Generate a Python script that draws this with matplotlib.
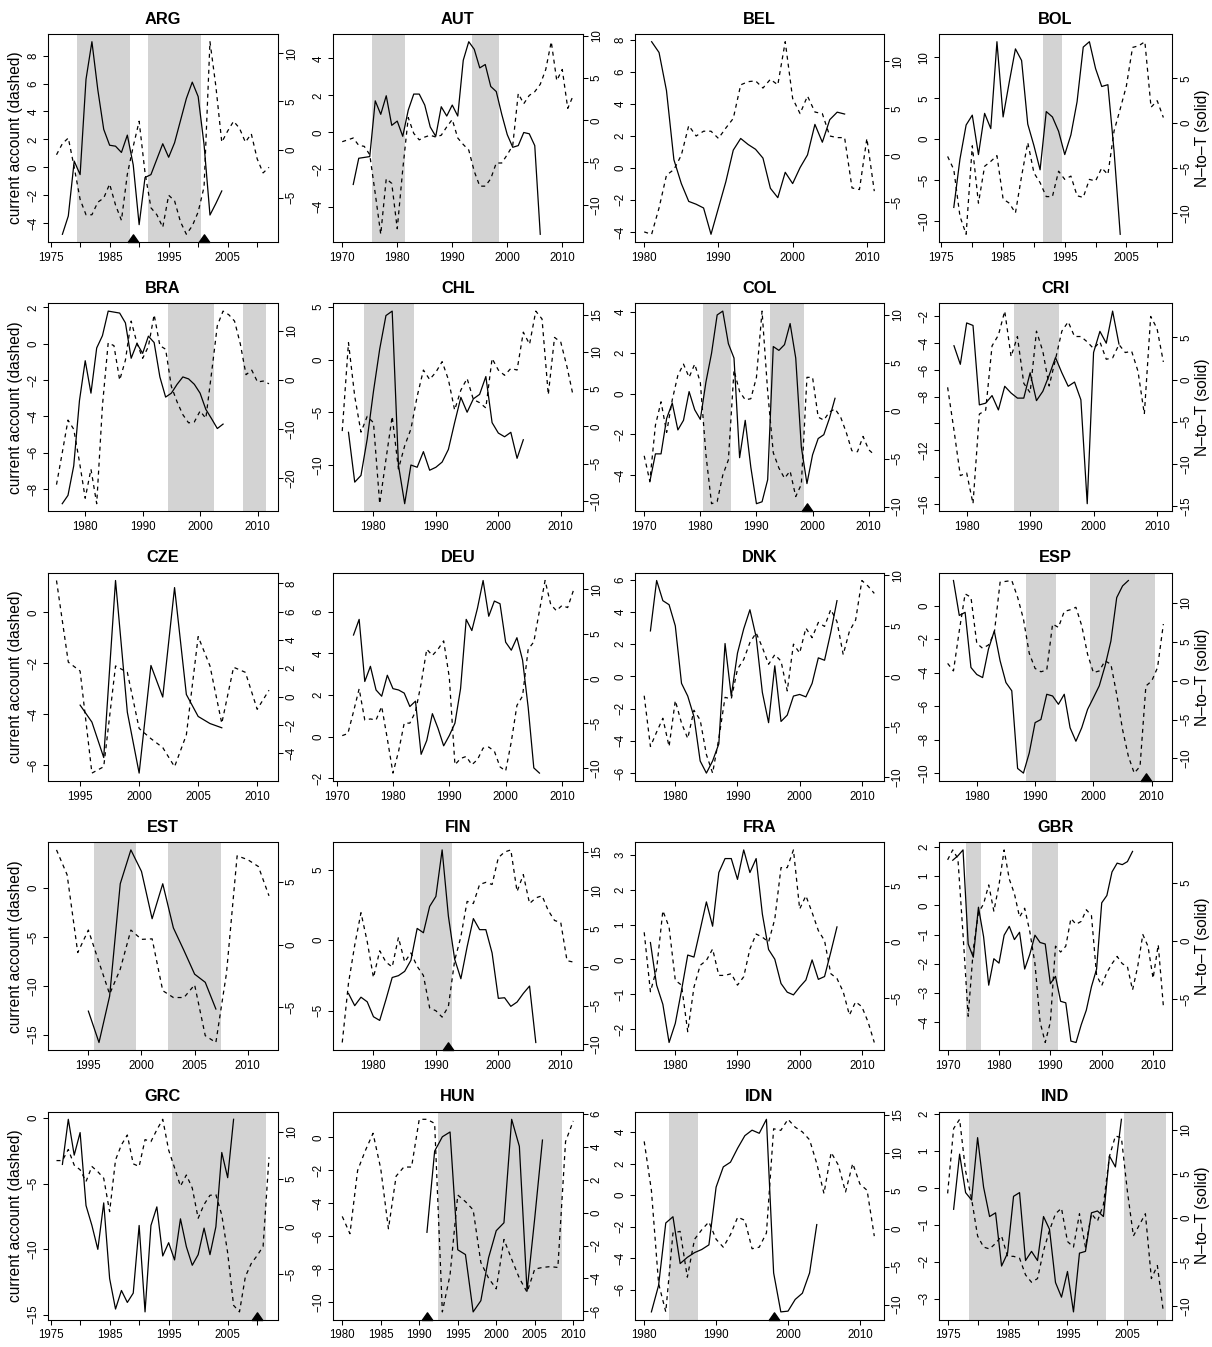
import numpy as np
import matplotlib
matplotlib.use("Agg")
import matplotlib.pyplot as plt
from matplotlib.path import Path
from matplotlib.ticker import MultipleLocator, FuncFormatter

plt.rcParams['font.family'] = ['Liberation Sans', 'DejaVu Sans']

COUNTRIES = ["ARG", "AUT", "BEL", "BOL", "BRA", "CHL", "COL", "CRI", "CZE", "DEU",
             "DNK", "ESP", "EST", "FIN", "FRA", "GBR", "GRC", "HUN", "IDN", "IND"]

# current account (dashed, left axis) and N-to-T (solid, right axis), yearly
ARG_CA_START = 1976
ARG_CA = [0.9, 1.7, 2.1, 0.0, -2.3, -3.4, -3.4, -2.5, -2.2, -1.2, -2.7, -3.8, -0.5, 1.5, 3.3,
          -0.4, -2.9, -3.4, -4.3, -2.0, -2.4, -3.9, -4.8, -4.2, -3.2, -1.4, 9.0, 5.8, 1.8, 2.6,
          3.3, 2.8, 1.8, 2.4, 0.6, -0.4, 0.0]
ARG_NT_START = 1977
ARG_NT = [-8.8, -6.9, -1.2, -2.6, 7.3, 11.2, 6.2, 2.1, 0.45, 0.35, -0.3, 1.5, -1.6, -7.8,
          -2.9, -2.6, -1.0, 0.6, -0.8, 0.7, 3.0, 5.3, 7.0, 5.5, 0.5, -6.8, -5.6, -4.3]
ARG_SHADE = [(1980, 1988), (1992, 2000)]
ARG_CRISIS = [1989, 2001]

AUT_CA_START = 1970
AUT_CA = [-0.5, -0.4, -0.3, -0.7, -0.75, -1.2, -3.3, -5.5, -2.5, -2.75, -5.2, -2.0, 0.8, -0.05,
          -0.4, -0.25, -0.15, -0.25, -0.15, 0.3, 0.7, -0.3, -0.65, -0.95, -2.1, -2.9, -2.9,
          -2.5, -1.65, -1.65, -1.2, -0.7, 2.1, 1.55, 2.0, 2.2, 2.6, 3.4, 4.9, 2.8, 3.4, 1.3, 2.0]
AUT_NT_START = 1972
AUT_NT = [-7.6, -4.5, -4.4, -4.3, 2.3, 0.7, 2.9, -0.6, -0.1, -1.9, 1.2, 3.1, 3.1, 1.8, -0.8,
          -1.9, 1.6, 0.5, 1.8, 0.5, 7.1, 9.3, 8.4, 6.2, 6.6, 4.0, 3.4, 0.7, -1.7, -3.2, -3.0,
          -1.45, -1.6, -3.0, -13.5]
AUT_SHADE = [(1976, 1981), (1994, 1998)]
AUT_CRISIS = []

BEL_CA_START = 1980
BEL_CA = [-4.0, -4.15, -2.5, -0.45, -0.1, 0.8, 2.65, 2.0, 2.3, 2.3, 1.85, 2.5, 3.1, 5.2, 5.4,
          5.45, 5.0, 5.55, 5.2, 7.9, 4.35, 3.4, 4.5, 3.5, 3.4, 2.0, 1.9, 1.9, -1.25, -1.35,
          1.85, -1.45]
BEL_NT_START = 1981
BEL_NT = [12.1, 10.95, 6.9, -0.46, -3.0, -4.9, -5.2, -5.6, -8.4, -5.6, -2.8, 0.56, 1.8, 1.16,
          0.65, -0.29, -3.5, -4.5, -1.8, -3.0, -1.3, 0.05, 3.3, 1.4, 3.8, 4.6, 4.4]
BEL_SHADE = []
BEL_CRISIS = []

BOL_CA_START = 1976
BOL_CA = [-2.1, -3.7, -9.4, -11.6, -0.8, -7.8, -3.3, -2.7, -2.0, -7.3, -7.8, -9.0, -4.5, -0.4,
          -4.1, -5.3, -7.0, -7.0, -3.9, -4.9, -4.5, -6.9, -7.1, -4.9, -5.1, -3.5, -4.3, 1.0,
          3.7, 6.5, 11.2, 11.4, 11.9, 3.9, 4.7, 2.65]
BOL_NT_START = 1977
BOL_NT = [-9.4, -4.0, -0.2, 0.9, -3.5, 1.1, -0.6, 9.1, 0.7, 4.6, 8.3, 7.0, -0.1, -2.5, -5.2,
          1.3, 0.7, -0.9, -3.5, -1.3, 2.4, 8.5, 9.1, 6.1, 4.1, 4.3, -3.1, -12.4]
BOL_SHADE = [(1992, 1994)]
BOL_CRISIS = []

BRA_CA_START = 1975
BRA_CA = [-7.75, -6.0, -4.2, -4.7, -6.5, -8.5, -6.9, -8.8, -3.4, 0.05, -0.1, -2.0, -0.9, 1.25,
          0.05, -0.8, -0.15, 1.6, -0.1, -0.3, -2.35, -3.2, -3.9, -4.35, -4.3, -3.7, -4.1, -1.6,
          1.0, 1.8, 1.6, 1.25, 0.0, -1.7, -1.45, -2.1, -2.05, -2.2]
BRA_NT_START = 1976
BRA_NT = [-25.2, -23.5, -17.5, -4.2, 3.9, -2.7, 6.5, 9.0, 14.0, 13.8, 13.6, 11.6, 4.4, 7.4,
          5.4, 8.9, 7.6, 0.6, -3.5, -2.7, -0.9, 0.6, 0.2, -0.9, -2.7, -6.0, -7.9, -9.9, -9.0]
BRA_SHADE = [(1995, 2002), (2008, 2011)]
BRA_CRISIS = []

CHL_CA_START = 1975
CHL_CA = [-6.8, 1.6, -3.5, -6.9, -5.4, -6.0, -13.7, -9.5, -5.4, -10.4, -8.2, -6.6, -3.5, -1.0,
          -1.9, -1.2, -0.2, -1.9, -4.8, -2.9, -1.8, -3.8, -4.1, -4.6, 0.1, -1.0, -1.5, -0.85,
          -1.0, 2.6, 1.45, 4.6, 3.85, -3.35, 2.1, 1.65, -0.7, -3.5]
CHL_NT_START = 1976
CHL_NT = [-0.8, -7.5, -6.6, -1.7, 4.7, 10.4, 14.9, 15.5, -5.2, -10.4, -5.2, -5.5, -3.4, -5.9,
          -5.5, -4.8, -3.1, 0.5, 3.9, 1.9, 3.7, 4.3, 6.7, 0.5, -0.9, -1.4, -0.8, -4.3, -1.8]
CHL_SHADE = [(1979, 1986)]
CHL_CRISIS = []

COL_CA_START = 1970
COL_CA = [-3.05, -4.3, -1.55, -0.4, -1.9, -0.3, 0.9, 1.45, 0.8, 1.45, 0.55, -3.0, -5.4, -5.3,
          -4.0, -3.25, 1.15, 0.1, -0.3, -0.25, 0.8, 4.05, 0.1, -2.9, -3.65, -4.15, -3.8, -5.05,
          -4.45, 0.8, 0.8, -1.15, -1.3, -0.9, -0.75, -1.15, -1.9, -2.8, -2.85, -2.1, -2.75, -3.0]
COL_NT_START = 1971
COL_NT = [-7.4, -4.5, -4.5, -0.8, 0.8, -2.0, -1.0, 2.0, 0.1, -0.9, 3.0, 6.0, 10.0, 10.4, 7.0,
          5.5, -4.9, -1.0, -5.9, -9.7, -9.5, -7.2, 6.7, 6.3, 6.9, 9.1, 5.5, -3.8, -7.6, -4.6,
          -2.9, -2.5, -0.8, 1.3]
COL_SHADE = [(1981, 1985), (1993, 1998)]
COL_CRISIS = [1999]

CRI_CA_START = 1977
CRI_CA = [-7.3, -10.5, -13.9, -13.7, -16.0, -9.3, -9.0, -4.2, -3.4, -1.6, -5.0, -3.5, -7.0,
          -7.7, -3.1, -4.6, -7.2, -5.2, -3.1, -2.4, -3.5, -3.5, -3.9, -4.4, -3.9, -5.2, -5.1,
          -4.1, -4.7, -4.6, -6.1, -9.3, -2.0, -2.9, -5.4]
CRI_NT_START = 1978
CRI_NT = [4.0, 1.8, 6.7, 6.4, -3.0, -2.8, -1.9, -3.6, -0.8, -1.6, -2.2, -2.2, 0.8, -2.5, -1.4,
          0.5, 2.6, 0.8, -0.8, -0.3, -2.4, -14.7, 3.2, 5.7, 4.3, 8.1, 4.2]
CRI_SHADE = [(1988, 1994)]
CRI_CRISIS = []

CZE_CA_START = 1993
CZE_CA = [1.25, -1.95, -2.3, -6.3, -6.05, -2.1, -2.35, -4.55, -4.95, -5.3, -6.05, -4.8, -0.95,
          -2.1, -4.35, -2.15, -2.35, -3.8, -3.05]
CZE_NT_START = 1995
CZE_NT = [-0.6, -1.8, -4.3, 8.2, -1.1, -5.4, 2.2, -0.03, 7.7, 0.15, -1.4, -1.9, -2.2]
CZE_SHADE = []
CZE_CRISIS = []

DEU_CA_START = 1971
DEU_CA = [0.05, 0.15, 1.2, 2.3, 0.8, 0.85, 0.8, 1.45, -0.1, -1.75, -0.7, 0.65, 0.65, 1.2, 2.55,
          4.2, 3.9, 4.2, 4.6, 2.85, -1.35, -1.05, -0.95, -1.35, -1.1, -0.55, -0.5, -0.7, -1.45,
          -1.65, -0.25, 1.5, 1.95, 4.2, 4.55, 6.05, 7.5, 6.35, 6.05, 6.3, 6.2, 7.0]
DEU_NT_START = 1973
DEU_NT = [4.9, 6.65, -0.3, 1.4, -1.25, -1.95, 0.4, -1.1, -1.25, -1.6, -3.1, -2.5, -8.45, -6.9,
          -3.9, -5.55, -7.5, -6.35, -4.97, -1.1, 6.65, 5.4, 7.9, 11.0, 7.0, 8.7, 8.4, 4.1, 3.2,
          4.6, 2.1, -3.2, -9.97, -10.55]
DEU_SHADE = []
DEU_CRISIS = []

DNK_CA_START = 1975
DNK_CA = [-1.2, -4.35, -3.45, -2.6, -4.35, -1.5, -2.9, -3.85, -2.1, -2.7, -4.85, -6.0, -3.85,
          -1.3, -1.4, 0.45, 1.05, 2.1, 2.7, 1.8, 0.75, 1.35, 0.95, -0.9, 2.0, 1.45, 3.0, 2.4,
          3.35, 3.1, 4.15, 3.4, 1.35, 2.8, 3.5, 5.95, 5.6, 5.15]
DNK_NT_START = 1976
DNK_NT = [4.5, 9.5, 7.5, 7.1, 5.0, -0.7, -1.96, -4.0, -8.4, -9.6, -8.4, -6.7, 3.25, -1.96, 2.3,
          4.7, 6.6, 3.9, -1.6, -4.6, 1.04, -4.48, -3.85, -1.96, -1.8, -2.04, -0.7, 1.83, 1.59,
          4.35, 7.5]
DNK_SHADE = []
DNK_CRISIS = []

ESP_CA_START = 1975
ESP_CA = [-3.45, -3.9, -1.5, 0.7, 0.5, -2.25, -2.55, -2.35, -1.65, 1.4, 1.45, 1.5, 0.5, -0.8,
          -2.85, -3.75, -3.95, -3.85, -1.1, -1.3, -0.35, -0.25, -0.1, -1.2, -2.9, -4.0, -3.9,
          -3.3, -3.5, -5.3, -7.4, -9.0, -10.0, -9.6, -4.8, -4.5, -3.7, -1.1]
ESP_NT_START = 1976
ESP_NT = [12.9, 8.4, 8.8, 1.7, 0.8, 0.4, 4.06, 6.4, 2.56, -0.24, -1.3, -11.3, -11.9, -9.3,
          -5.4, -5.0, -1.75, -1.97, -3.04, -1.75, -6.06, -7.8, -6.06, -3.7, -2.2, -0.67, 1.9,
          5.1, 10.7, 12.2, 12.9]
ESP_SHADE = [(1989, 1993), (2000, 2010)]
ESP_CRISIS = [2009]

EST_CA_START = 1992
EST_CA = [3.9, 1.35, -6.6, -4.3, -7.6, -10.85, -8.3, -4.3, -5.25, -5.2, -10.5, -11.2, -11.2,
          -9.9, -15.1, -15.8, -8.7, 3.3, 2.9, 2.2, -0.8]
EST_NT_START = 1995
EST_NT = [-5.3, -7.8, -4.1, 4.86, 7.56, 5.84, 2.07, 4.86, 1.34, -0.47, -2.35, -3.0, -5.13]
EST_SHADE = [(1996, 1999), (2003, 2007)]
EST_CRISIS = []

FIN_CA_START = 1975
FIN_CA = [-7.25, -3.05, -0.35, 1.95, -0.1, -2.65, -0.75, -1.55, -1.9, 0.2, -1.55, -0.9, -1.85,
          -2.5, -4.8, -5.0, -5.45, -4.7, -1.45, 0.25, 2.75, 2.6, 3.95, 4.1, 3.95, 5.85, 6.25,
          6.4, 3.45, 4.65, 2.6, 3.0, 3.15, 2.1, 1.4, 1.25, -1.45, -1.55]
FIN_NT_START = 1976
FIN_NT = [-3.41, -5.0, -3.9, -4.5, -6.44, -6.92, -4.21, -1.34, -1.1, -0.54, 0.9, 5.04, 4.48,
          7.9, 9.2, 15.25, 6.64, 1.06, -1.5, 2.65, 6.32, 4.88, 4.88, 1.85, -4.05, -3.97, -5.09,
          -4.53, -3.41, -2.45, -9.79]
FIN_SHADE = [(1988, 1992)]
FIN_CRISIS = [1992]

FRA_CA_START = 1975
FRA_CA = [0.78, -0.93, -0.27, 1.4, 0.93, -0.6, -0.74, -2.08, -0.8, -0.17, -0.03, 0.3, -0.46,
          -0.46, -0.41, -0.74, -0.5, 0.3, 0.73, 0.64, 0.5, 1.16, 2.64, 2.64, 3.15, 1.45, 1.83,
          1.35, 0.83, 0.54, -0.41, -0.55, -0.93, -1.6, -1.22, -1.36, -1.8, -2.39]
FRA_NT_START = 1976
FRA_NT = [-0.05, -3.84, -5.54, -8.93, -7.23, -4.3, -1.16, -1.34, 1.09, 3.56, 1.4, 6.17, 7.41,
          7.41, 5.56, 8.18, 6.17, 7.41, 2.48, -0.67, -1.53, -3.69, -4.46, -4.7, -4.0, -3.38,
          -1.59, -3.32, -3.07, -0.91, 1.34]
FRA_SHADE = []
FRA_CRISIS = []

GBR_CA_START = 1970
GBR_CA = [1.56, 1.9, 1.6, -1.0, -3.8, -1.5, -0.25, 0.05, 0.7, -0.2, 0.7, 1.9, 0.9, 0.4, -0.4,
          -0.1, -0.9, -2.0, -4.0, -4.7, -4.0, -1.4, -1.6, -1.4, -0.45, -0.65, -0.55, -0.15,
          -0.35, -2.4, -2.75, -2.3, -2.0, -1.75, -2.0, -2.1, -2.9, -2.1, -1.0, -1.4, -2.5,
          -1.35, -3.45]
GBR_NT_START = 1971
GBR_NT = [6.97, 7.35, 7.86, -0.25, -1.39, 2.92, 0.38, -3.8, -1.52, -1.9, 0.51, 1.27, 0.13, 0.76,
          -2.41, -1.14, 0.51, -0.12, -0.25, -3.67, -3.04, -5.19, -5.32, -8.62, -8.74, -7.22,
          -5.95, -3.93, -2.41, 3.3, 3.93, 5.96, 6.72, 6.59, 6.85, 7.73]
GBR_SHADE = [(1974, 1976), (1987, 1991)]
GBR_CRISIS = []

GRC_CA_START = 1976
GRC_CA = [-3.25, -3.25, -2.4, -3.6, -3.95, -4.85, -3.7, -4.1, -4.6, -7.15, -3.2, -2.05, -1.3,
          -3.5, -3.7, -1.65, -1.8, -0.9, -0.1, -2.45, -3.8, -5.2, -4.35, -5.35, -7.65, -6.6,
          -5.9, -5.85, -7.4, -10.3, -14.3, -14.8, -12.1, -11.1, -10.5, -9.8, -3.0]
GRC_NT_START = 1977
GRC_NT = [6.56, 11.32, 7.54, 9.92, 2.22, 0.12, -2.4, 2.5, -5.48, -8.7, -6.74, -8.0, -7.02, 0.12,
          -9.0, 0.12, 2.08, -3.1, -1.7, -3.52, 0.82, -2.12, -4.08, -2.96, -0.16, -2.96, -0.02,
          7.82, 5.16, 11.32]
GRC_SHADE = [(1996, 2011)]
GRC_CRISIS = [2010]

HUN_CA_START = 1980
HUN_CA = [-4.8, -5.85, -2.0, -0.8, 0.25, -1.9, -5.55, -2.35, -1.8, -1.8, 1.1, 1.1, 0.85, -10.6,
          -8.35, -3.5, -3.9, -4.4, -7.6, -8.55, -9.2, -6.2, -7.4, -8.55, -9.4, -8.0, -7.9,
          -7.85, -7.9, -0.25, 1.0]
HUN_NT_START = 1991
HUN_NT = [-1.2, 3.73, 4.6, 4.89, -2.26, -2.55, -6.03, -5.35, -2.75, -1.1, -0.62, 5.66, 4.02,
          -4.77, -0.33, 4.4]
HUN_SHADE = [(1993, 2008)]
HUN_CRISIS = [1991]

IDN_CA_START = 1980
IDN_CA = [3.4, 0.3, -5.6, -7.4, -2.4, -2.3, -5.2, -2.8, -2.2, -1.7, -2.8, -3.3, -2.5, -1.4,
          -1.6, -3.4, -3.3, -2.4, 4.2, 4.1, 4.8, 4.3, 4.0, 3.5, 2.0, 0.1, 2.7, 1.9, 0.2, 2.0,
          0.7, 0.3, -2.6]
IDN_NT_START = 1981
IDN_NT = [-10.96, -7.47, 0.74, 1.56, -4.6, -3.78, -3.16, -2.75, -2.14, 5.46, 8.12, 8.74, 10.59,
          12.23, 12.95, 12.54, 14.38, -5.83, -10.96, -10.86, -9.32, -8.5, -5.83, 0.53]
IDN_SHADE = [(1984, 1987)]
IDN_CRISIS = [1998]

IND_CA_START = 1975
IND_CA = [-0.15, 1.6, 1.85, 0.45, -0.3, -1.3, -1.6, -1.65, -1.5, -1.3, -1.85, -1.85, -1.9,
          -2.35, -2.55, -2.45, -1.7, -1.15, -0.7, -0.55, -1.45, -1.6, -0.7, -1.6, -0.7, -0.9,
          -0.45, 0.85, 1.4, 1.35, -0.1, -1.3, -1.0, -0.7, -2.45, -2.1, -3.35]
IND_NT_START = 1976
IND_NT = [1.0, 7.25, 2.89, 2.05, 9.12, 3.51, 0.18, 0.6, -5.43, -3.97, 2.47, 2.89, -4.81, -3.77,
          -4.81, 0.18, -1.27, -7.3, -8.96, -6.05, -10.63, -3.97, -3.77, 0.6, 0.81, 0.18, 7.04,
          5.8, 11.2]
IND_SHADE = [(1979, 2001), (2005, 2011)]
IND_CRISIS = []

PANELS = {c: (globals()[c + "_CA_START"], globals()[c + "_CA"],
              globals()[c + "_NT_START"], globals()[c + "_NT"],
              globals()[c + "_SHADE"], globals()[c + "_CRISIS"]) for c in COUNTRIES}

# x tick step, x label every n-th tick, left tick step, right tick step
TICKS = {
    "ARG": (5, 2, 2, 5), "AUT": (10, 1, 2, 5), "BEL": (10, 1, 2, 5), "BOL": (5, 2, 5, 5),
    "BRA": (10, 1, 2, 10), "CHL": (10, 1, 5, 5), "COL": (10, 1, 2, 5), "CRI": (10, 1, 2, 5),
    "CZE": (5, 1, 2, 2), "DEU": (10, 1, 2, 5), "DNK": (10, 1, 2, 5), "ESP": (10, 1, 2, 5),
    "EST": (5, 1, 5, 5), "FIN": (10, 1, 5, 5), "FRA": (10, 1, 1, 5), "GBR": (10, 1, 1, 5),
    "GRC": (5, 2, 5, 5), "HUN": (5, 1, 2, 2), "IDN": (10, 1, 2, 5), "IND": (5, 2, 1, 5),
}
HIDE_LEFT = {"CRI": [-10, -14]}

# layout in pixels
W, H = 1212, 1347
COL_X = [(48, 277.5), (333, 582.5), (635, 883.5), (939, 1172)]
ROW_TOP, ROW_BOT, ROW_H = 34, 242, 269.4
TICK_FS = 8.3
LAB_FS = 11.2
TITLE_FS = 11.8

fig = plt.figure(figsize=(W / 100, H / 100), dpi=100)

tri = Path([(-0.7, 0), (0.7, 0), (0, 1), (-0.7, 0)],
           [Path.MOVETO, Path.LINETO, Path.LINETO, Path.CLOSEPOLY])


def padded(lo, hi):
    r = hi - lo
    return lo - 0.04 * r, hi + 0.04 * r


def num(v):
    s = "%d" % int(round(v))
    return s.replace("-", "\u2212")


for i, code in enumerate(COUNTRIES):
    r, c = divmod(i, 4)
    x0, x1 = COL_X[c]
    top = ROW_TOP + ROW_H * r
    bot = ROW_BOT + ROW_H * r
    ax = fig.add_axes([x0 / W, 1 - bot / H, (x1 - x0) / W, (bot - top) / H])

    ca_start, ca, nt_start, nt, shade, crisis = PANELS[code]
    ca_years = np.arange(ca_start, ca_start + len(ca))
    nt_years = np.arange(nt_start, nt_start + len(nt))

    ax.set_xlim(*padded(min(ca_years[0], nt_years[0]), max(ca_years[-1], nt_years[-1])))
    ax.set_ylim(*padded(min(ca), max(ca)))
    for s, e in shade:
        ax.axvspan(s - 0.5, e + 0.5, color='#d3d3d3', lw=0, zorder=0)
    ax.plot(ca_years, ca, color='black', lw=0.9, dashes=(3.2, 3.2), zorder=2)

    ax2 = ax.twinx()
    ax2.set_ylim(*padded(min(nt), max(nt)))
    ax2.plot(nt_years, nt, color='black', lw=0.9, zorder=2)

    if crisis:
        ax.plot(crisis, [ax.get_ylim()[0]] * len(crisis), ls='none', marker=tri, ms=11,
                color='black', clip_on=False, zorder=5)

    xs, xe, ls_, rs_ = TICKS[code]
    ax.xaxis.set_major_locator(MultipleLocator(xs))
    ax.xaxis.set_major_formatter(FuncFormatter(
        lambda v, p, xs=xs, xe=xe: num(v) if xe == 1 or int(round(v - 1975)) % (xs * xe) == 0 else ""))
    hide = HIDE_LEFT.get(code, [])
    ax.yaxis.set_major_locator(MultipleLocator(ls_))
    ax.yaxis.set_major_formatter(FuncFormatter(
        lambda v, p, hide=hide: "" if int(round(v)) in hide else num(v)))
    ax2.yaxis.set_major_locator(MultipleLocator(rs_))
    ax2.yaxis.set_major_formatter(FuncFormatter(lambda v, p: num(v)))

    ax.tick_params(axis='x', direction='out', length=3.7, width=0.75, pad=3.3,
                   labelsize=TICK_FS)
    ax.tick_params(axis='y', direction='out', length=3.7, width=0.75, pad=2.3,
                   labelsize=TICK_FS, labelrotation=90)
    ax2.tick_params(axis='y', direction='out', length=3.7, width=0.75, pad=2.3,
                    labelsize=TICK_FS, labelrotation=90)
    for t in ax.get_yticklabels():
        t.set_va('center')
    for t in ax2.get_yticklabels():
        t.set_va('center')
    for a in (ax, ax2):
        for sp in a.spines.values():
            sp.set_linewidth(0.75)
            sp.set_color('black')

    ax.text(0.5, 1 + 15.0 / (bot - top), code, transform=ax.transAxes, ha='center',
            va='center', fontsize=TITLE_FS, fontweight='bold')

    ymid = 1 - (top + bot) / 2 / H
    if c == 0:
        fig.text(15.5 / W, ymid, "current account (dashed)", rotation=90, ha='center',
                 va='center', fontsize=LAB_FS)
    if c == 3:
        fig.text(1203 / W, ymid, "N\u2013to\u2013T (solid)", rotation=90, ha='center',
                 va='center', fontsize=LAB_FS)

fig.savefig("out.png", dpi=100)
